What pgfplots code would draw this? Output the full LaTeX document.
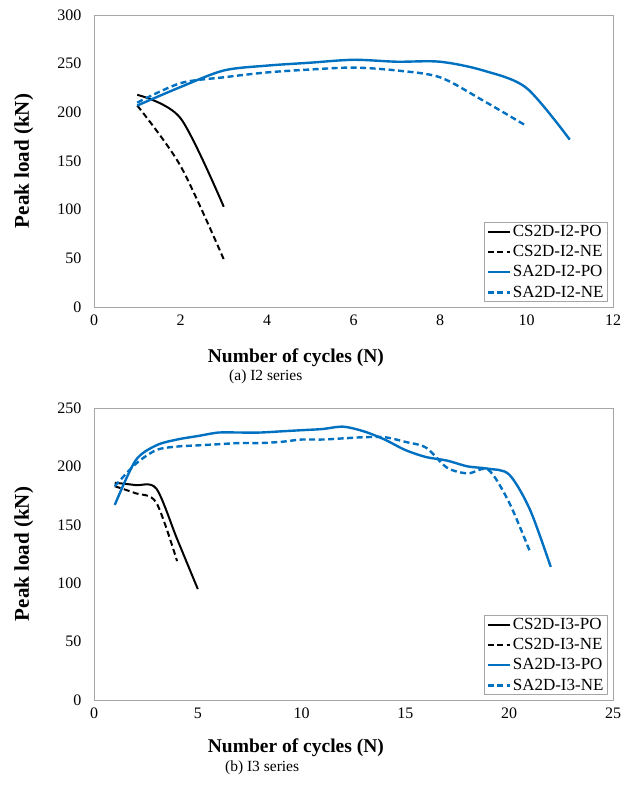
\documentclass[border=0pt]{standalone}
\usepackage{fontspec}
\setmainfont{Liberation Serif}
\usepackage{pgfplots}
\pgfplotsset{compat=1.18}

\definecolor{xlblue}{HTML}{0070C0}
\definecolor{frame}{HTML}{A6A6A6}

\pgfplotsset{
  cyc/.style={
    width=519pt, height=292pt, scale only axis,
    anchor=south west,
    clip mode=individual,
    axis line style={frame, line width=0.9pt},
    major tick length=0pt,
    xmin=0,
    ymin=0,
    /pgf/number format/assume math mode=true,
    tick label style={font=\fontsize{16}{18}\selectfont},
    xticklabel style={yshift=-4pt},
    yticklabel style={xshift=-9pt},
    xlabel style={font=\fontsize{19.5}{22}\selectfont\bfseries},
    ylabel style={font=\fontsize{21}{24}\selectfont\bfseries,
      at={(axis description cs:-0.135,0.5)}, anchor=center},
    legend cell align=left,
    legend style={
      at={(axis description cs:0.99,0.017)}, anchor=south east,
      draw=frame, line width=0.7pt, fill=white,
      font=\fontsize{17}{18}\selectfont,
      inner xsep=2pt, inner ysep=1pt, row sep=3.5pt,
    },
    legend image code/.code={\draw[#1] (0pt,0pt) -- (22pt,0pt);},
  },
  csline/.style={black, line width=2pt, smooth, tension=0.5},
  saline/.style={xlblue, line width=2.4pt, smooth, tension=0.5},
  dsh/.style={dash pattern=on 6pt off 3.5pt},
}

\begin{document}
\begin{tikzpicture}
\useasboundingbox (0pt,0pt) rectangle (624pt,-790pt);

\begin{axis}[cyc,
  at={(94pt,-307pt)},
  xmax=12, ymax=300,
  xtick distance=2, ytick distance=50,
  xlabel={Number of cycles (N)},
  ylabel={Peak load (kN)},
  xlabel style={at={(axis description cs:0.389,-0.175)}, anchor=center},
]
\addplot[csline] coordinates {(1,218) (2,194) (3,103)};
\addlegendentry{CS2D-I2-PO}
\addplot[csline, dsh] coordinates {(1,207) (2,145) (3,49)};
\addlegendentry{CS2D-I2-NE}
\addplot[saline] coordinates {(1,207) (2,226) (3,243) (4,248) (5,251) (6,254) (7,252) (8,252) (9,243) (10,225) (11,172)};
\addlegendentry{SA2D-I2-PO}
\addplot[saline, dsh] coordinates {(1,210) (2,230) (3,236) (4,241) (5,244) (6,246) (7,243) (8,236) (9,212) (10,186)};
\addlegendentry{SA2D-I2-NE}
\node[font=\fontsize{15.5}{18}\selectfont] at (axis description cs:0.331,-0.24) {(a) I2 series};
\end{axis}

\begin{axis}[cyc,
  at={(94pt,-700pt)},
  xmax=25, ymax=250,
  xtick distance=5, ytick distance=50,
  xlabel={Number of cycles (N)},
  ylabel={Peak load (kN)},
  xlabel style={at={(axis description cs:0.389,-0.164)}, anchor=center},
]
\addplot[csline] coordinates {(1,186) (2,184) (3,181) (4,138) (5,95)};
\addlegendentry{CS2D-I3-PO}
\addplot[csline, dsh] coordinates {(1,183) (2,177) (3,169) (4,119)};
\addlegendentry{CS2D-I3-NE}
\addplot[saline] coordinates {(1,167) (2,205) (3,218) (4,223) (5,226) (6,229) (7,229) (8,229) (9,230) (10,231) (11,232) (12,234) (13,230) (14,223) (15,214) (16,208) (17,205) (18,200) (19,198) (20,193) (21,163) (22,114)};
\addlegendentry{SA2D-I3-PO}
\addplot[saline, dsh] coordinates {(1,183) (2,202) (3,214) (4,217) (5,218) (6,219) (7,220) (8,220) (9,221) (10,223) (11,223) (12,224) (13,225) (14,225) (15,221) (16,216) (17,199) (18,194) (19,197) (20,169) (21,127)};
\addlegendentry{SA2D-I3-NE}
\node[font=\fontsize{15.5}{18}\selectfont] at (axis description cs:0.324,-0.233) {(b) I3 series};
\end{axis}
\end{tikzpicture}
\end{document}
